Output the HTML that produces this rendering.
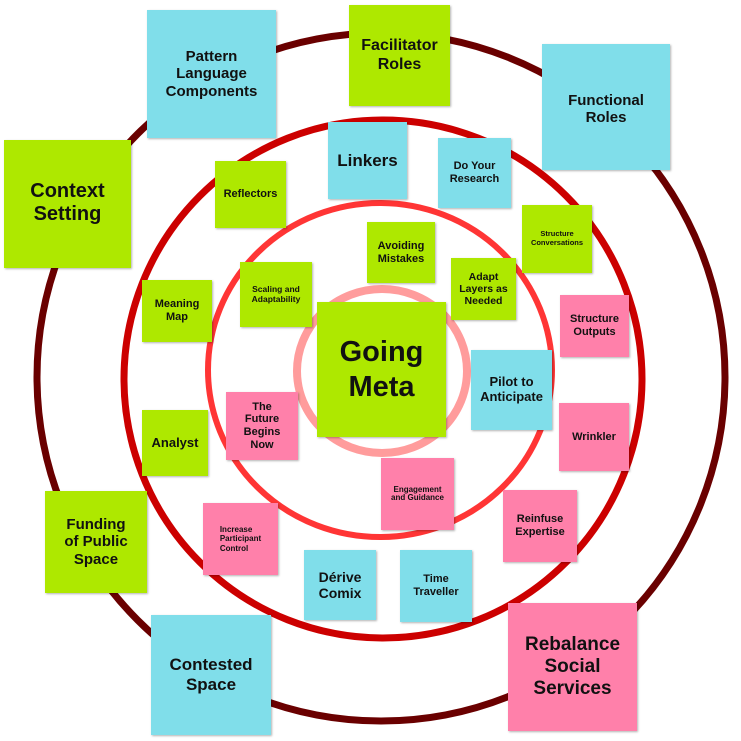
<!DOCTYPE html>
<html><head><meta charset="utf-8"><style>
html,body{margin:0;padding:0;background:#fff;}
#c{position:relative;width:741px;height:741px;overflow:hidden;font-family:"Liberation Sans",sans-serif;font-weight:bold;color:#111;}
svg{position:absolute;left:0;top:0;}
.b{position:absolute;display:flex;align-items:center;justify-content:center;text-align:center;box-shadow:1px 1px 2px rgba(0,0,0,.3);line-height:1.15;box-sizing:border-box;padding:2px;}
.g{background:#aee800;}
.u{background:#80deea;}
.p{background:#ff80aa;}
</style></head><body><div id="c">
<svg width="741" height="741">
<circle cx="381" cy="377" r="344" fill="none" stroke="#6a0000" stroke-width="7"/>
<circle cx="383" cy="379" r="259" fill="none" stroke="#cc0000" stroke-width="7"/>
<ellipse cx="380" cy="370" rx="172" ry="167" fill="none" stroke="#ff3535" stroke-width="6"/>
<ellipse cx="382" cy="371" rx="85" ry="82" fill="none" stroke="#ff9c9c" stroke-width="8"/>
</svg>
<div class="b u" style="left:147px;top:10px;width:129px;height:128px;font-size:15px;">Pattern<br>Language<br>Components</div>
<div class="b g" style="left:349px;top:5px;width:101px;height:101px;font-size:16px;">Facilitator<br>Roles</div>
<div class="b u" style="left:542px;top:44px;width:128px;height:126px;font-size:15px;align-items:flex-start;padding-top:48px;">Functional<br>Roles</div>
<div class="b g" style="left:4px;top:140px;width:127px;height:128px;font-size:20px;align-items:flex-start;padding-top:40px;">Context<br>Setting</div>
<div class="b u" style="left:328px;top:122px;width:79px;height:77px;font-size:17px;">Linkers</div>
<div class="b u" style="left:438px;top:138px;width:73px;height:70px;font-size:11px;">Do Your<br>Research</div>
<div class="b g" style="left:215px;top:161px;width:71px;height:67px;font-size:11px;">Reflectors</div>
<div class="b g" style="left:367px;top:222px;width:68px;height:61px;font-size:11px;">Avoiding<br>Mistakes</div>
<div class="b g" style="left:522px;top:205px;width:70px;height:68px;font-size:7.5px;">Structure<br>Conversations</div>
<div class="b g" style="left:240px;top:262px;width:72px;height:65px;font-size:8.5px;">Scaling and<br>Adaptability</div>
<div class="b g" style="left:451px;top:258px;width:65px;height:62px;font-size:10.5px;">Adapt<br>Layers as<br>Needed</div>
<div class="b g" style="left:142px;top:280px;width:70px;height:62px;font-size:11px;">Meaning<br>Map</div>
<div class="b g" style="left:317px;top:302px;width:129px;height:135px;font-size:29px;line-height:1.2;">Going<br>Meta</div>
<div class="b p" style="left:560px;top:295px;width:69px;height:62px;font-size:11px;">Structure<br>Outputs</div>
<div class="b u" style="left:471px;top:350px;width:81px;height:80px;font-size:13px;">Pilot to<br>Anticipate</div>
<div class="b p" style="left:226px;top:392px;width:72px;height:68px;font-size:11px;">The<br>Future<br>Begins<br>Now</div>
<div class="b g" style="left:142px;top:410px;width:66px;height:66px;font-size:13px;">Analyst</div>
<div class="b p" style="left:559px;top:403px;width:70px;height:68px;font-size:11px;">Wrinkler</div>
<div class="b p" style="left:381px;top:458px;width:73px;height:72px;font-size:8px;line-height:1.05;">Engagement<br>and Guidance</div>
<div class="b p" style="left:503px;top:490px;width:74px;height:72px;font-size:11px;">Reinfuse<br>Expertise</div>
<div class="b p" style="left:203px;top:503px;width:75px;height:72px;font-size:8px;text-align:left;">Increase<br>Participant<br>Control</div>
<div class="b g" style="left:45px;top:491px;width:102px;height:102px;font-size:15px;">Funding<br>of Public<br>Space</div>
<div class="b u" style="left:304px;top:550px;width:72px;height:70px;font-size:14px;">Dérive<br>Comix</div>
<div class="b u" style="left:400px;top:550px;width:72px;height:72px;font-size:11px;">Time<br>Traveller</div>
<div class="b u" style="left:151px;top:615px;width:120px;height:120px;font-size:17px;">Contested<br>Space</div>
<div class="b p" style="left:508px;top:603px;width:129px;height:128px;font-size:19px;">Rebalance<br>Social<br>Services</div>
</div></body></html>
